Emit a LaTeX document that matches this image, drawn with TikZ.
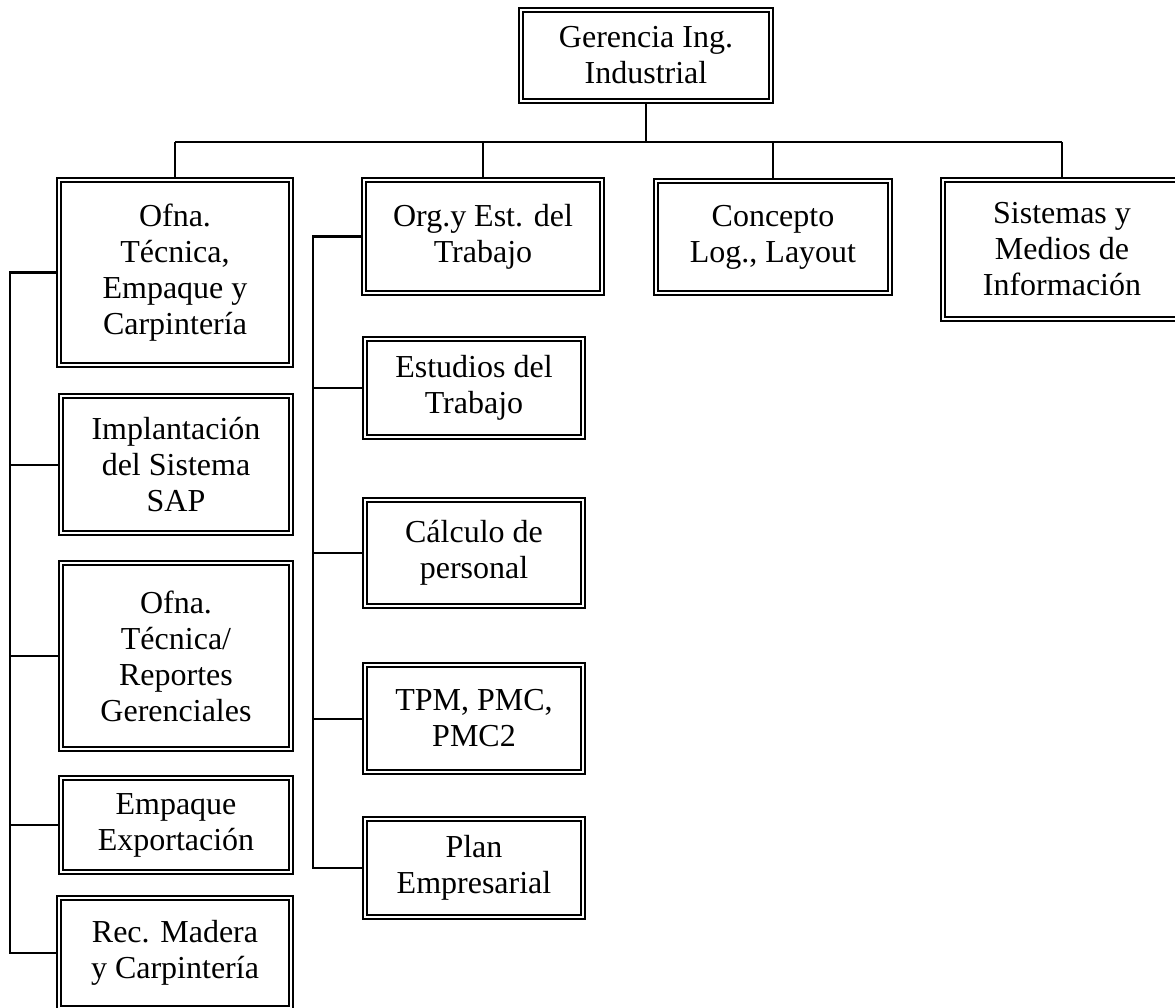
\documentclass[tikz,border=0pt]{standalone}
\usepackage{fontspec}
\setmainfont{Liberation Serif}
\usetikzlibrary{backgrounds}
\begin{document}
\begin{tikzpicture}[x=1pt,y=-1pt,
  unit/.style={draw, double, line width=2.2pt, double distance=2pt,
    align=center, inner sep=0pt, font=\fontsize{32}{36}\selectfont},
  conn/.style={line width=2pt},
  bus/.style={line width=2.5pt}]
\useasboundingbox (0,0) rectangle (1175,1008);
\clip (0,0) rectangle (1175,1008);

% head of the department
\node[unit, minimum width=249.6, minimum height=90.6] (top) at (646,55.5)
  {Gerencia Ing.\\Industrial};

% first level
\node[unit, minimum width=231.6, minimum height=184.6] (ofna) at (175,272.5)
  {Ofna.\\Técnica,\\Empaque y\\Carpintería};
\node[unit, minimum width=237.6, minimum height=112.6] (org) at (483,236.5)
  {Org.y Est. del\\Trabajo};
\node[unit, minimum width=233.6, minimum height=111.6] (conc) at (773,237)
  {Concepto\\Log., Layout};
\node[unit, minimum width=237.6, minimum height=138.6] (sist) at (1062,249.5)
  {Sistemas y\\Medios de\\Información};

% left column
\node[unit, minimum width=229.6, minimum height=136.6] (imp) at (176,464.5)
  {Implantación\\del Sistema\\SAP};
\node[unit, minimum width=229.6, minimum height=185.6] (rep) at (176,656)
  {Ofna.\\Técnica/\\Reportes\\Gerenciales};
\node[unit, minimum width=229.6, minimum height=93.6] (emp) at (176,825)
  {Empaque\\Exportación};
\node[unit, minimum width=231.6, minimum height=109.6] (rec) at (175,953)
  {Rec. Madera\\y Carpintería};

% middle column
\node[unit, minimum width=217.6, minimum height=97.6] (est) at (474,388)
  {Estudios del\\Trabajo};
\node[unit, minimum width=217.6, minimum height=105.6] (calc) at (474,553)
  {Cálculo de\\personal};
\node[unit, minimum width=217.6, minimum height=106.6] (tpm) at (474,718.5)
  {TPM, PMC,\\PMC2};
\node[unit, minimum width=217.6, minimum height=97.6] (plan) at (474,868)
  {Plan\\Empresarial};

% guide coordinates for the bus and the two spines
\coordinate (busL) at (175,142);
\coordinate (busR) at (1062,142);
\coordinate (lspine) at (10,0);
\coordinate (mspine) at (313,0);

\begin{scope}[on background layer]
  \draw[bus] (top.south) -- (top.south |- busL);
  \draw[conn] (busL) -- (busR);
  \draw[conn] (ofna.north |- busL) -- (ofna.north);
  \draw[conn] (org.north |- busL) -- (org.north);
  \draw[conn] (conc.north |- busL) -- (conc.north);
  \draw[conn] (sist.north |- busL) -- (sist.north);

  \draw[bus] (ofna.west) -| (lspine |- rec.west) -- (rec.west);
  \draw[conn] (imp.west) -- (imp.west -| lspine);
  \draw[conn] (rep.west) -- (rep.west -| lspine);
  \draw[conn] (emp.west) -- (emp.west -| lspine);

  \draw[bus] (org.west) -| (mspine |- plan.west) -- (plan.west);
  \draw[conn] (est.west) -- (est.west -| mspine);
  \draw[conn] (calc.west) -- (calc.west -| mspine);
  \draw[conn] (tpm.west) -- (tpm.west -| mspine);
\end{scope}
\end{tikzpicture}
\end{document}
